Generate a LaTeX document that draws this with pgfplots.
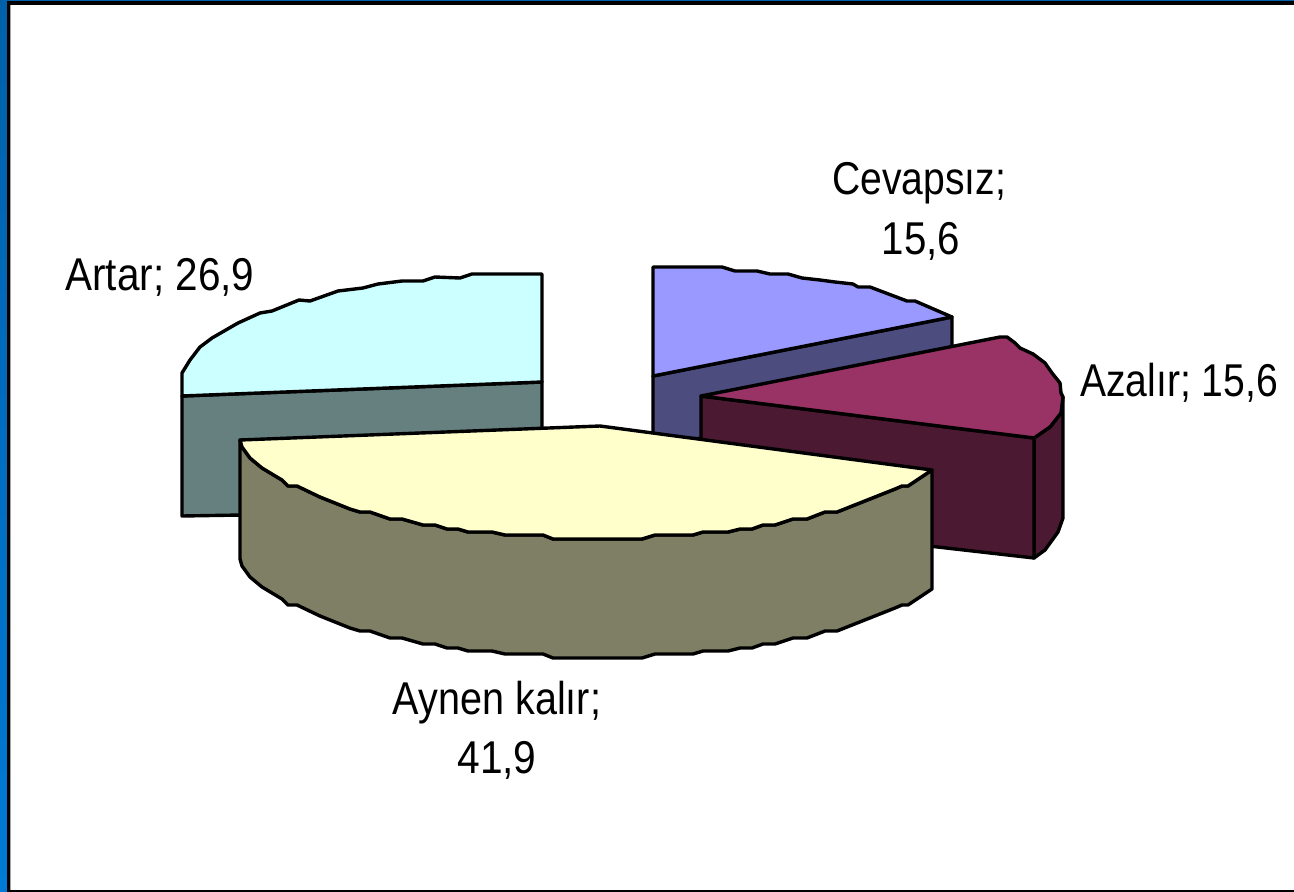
\documentclass[border=0pt]{standalone}
\usepackage{fontspec}
\setmainfont{Liberation Sans}
\usepackage{pgfplots}
\pgfplotsset{compat=1.18}
\definecolor{cA}{RGB}{204,255,255}
\definecolor{cAd}{RGB}{102,127,127}
\definecolor{cC}{RGB}{153,153,255}
\definecolor{cCd}{RGB}{76,76,127}
\definecolor{cZ}{RGB}{153,51,102}
\definecolor{cZd}{RGB}{76,25,51}
\definecolor{cY}{RGB}{255,255,204}
\definecolor{cYd}{RGB}{127,127,102}
\definecolor{bT}{RGB}{0,96,170}
\definecolor{bB}{RGB}{0,122,214}
\newcommand{\lab}[2][0.86]{\fontsize{46}{61}\selectfont\scalebox{#1}[1]{#2}}
\begin{document}
\begin{tikzpicture}
\begin{axis}[
  scale only axis, width=1294pt, height=892pt,
  xmin=0, xmax=1294, ymin=0, ymax=892, y dir=reverse,
  hide axis, clip=true,
  every axis plot/.append style={line width=3.4pt, line join=round, draw=black, mark=none},
]
% frame
\addplot[draw=none, line width=0pt, fill=bT] coordinates {(0,0)(1294,0)(1294,2)(0,2)} -- cycle;
\addplot[draw=none, line width=0pt, top color=bT, bottom color=bB] coordinates {(0,0)(7,0)(7,892)(0,892)} -- cycle;
\addplot[draw=none, line width=0pt, fill=black] coordinates {(7,1)(1294,1)(1294,5)(7,5)} -- cycle;
\addplot[draw=none, line width=0pt, fill=black] coordinates {(7,1)(10,1)(10,892)(7,892)} -- cycle;
\addplot[draw=none, line width=0pt, fill=black] coordinates {(7,890)(1294,890)(1294,892)(7,892)} -- cycle;
\addplot[draw=none, line width=0pt, fill=gray!70] coordinates {(10,5)(11,5)(11,890)(10,890)} -- cycle;
% Cevapsiz side & top
\addplot[fill=cCd] coordinates {(653,376)(952,317)(952,430)(653,440)} -- cycle;
\addplot[fill=cC] coordinates {(653,267)(722,267)(735,271)(757,271)(770,274)(788,274)(802,278)(820,280)(835,282)(853,284)(858,287)(870,287)(907,301)(915,301)(952,317)(653,376)} -- cycle;
% Artar
\addplot[fill=cAd] coordinates {(182,396)(542,382)(542,510)(182,516)} -- cycle;
\addplot[fill=cA] coordinates {(542,274)(472,274)(460,278)(435,277)(423,281)(402,281)(378,284)(363,288)(338,291)(310,301)(299,300)(272,311)(260,313)(238,323)(212,338)(200,347)(190,360)(182,373)(182,396)(542,382)} -- cycle;
% Azalir
\addplot[fill=cZd] coordinates {(1034,438)(1050,427)(1061,413)(1063,397)(1063,518)(1058,532)(1045,550)(1034,558)} -- cycle;
\addplot[fill=cZd] coordinates {(701,396)(1034,438)(1034,558)(701,520)} -- cycle;
\addplot[fill=cZ] coordinates {(701,396)(1000,337)(1007,337)(1015,343)(1020,348)(1033,354)(1045,363)(1052,373)(1060,383)(1061,393)(1063,397)(1061,413)(1050,427)(1034,438)} -- cycle;
% Aynen kalir
\addplot[fill=cYd] coordinates {(240,440)(242,447)(250,458)(262,468)(282,480)(288,486)(297,486)(320,497)(350,509)(360,512)(370,512)(390,519)(402,519)(423,525)(435,525)(447,529)(458,529)(468,532)(492,532)(505,535)(543,535)(553,539)(642,539)(655,535)(693,535)(703,532)(728,532)(740,529)(752,529)(763,525)(775,525)(793,519)(807,519)(825,512)(837,512)(895,489)(902,486)(908,486)(932,470)
(932,589)(908,605)(902,605)(895,608)(837,631)(825,631)(807,638)(793,638)(775,644)(763,644)(752,648)(740,648)(728,651)(703,651)(693,654)(655,654)(642,658)(553,658)(543,654)(505,654)(492,651)(468,651)(458,648)(447,648)(435,644)(423,644)(402,638)(390,638)(370,631)(360,631)(350,628)(320,616)(297,605)(288,605)(282,599)(262,587)(250,577)(242,566)(240,559)} -- cycle;
\addplot[fill=cY] coordinates {(600,426)(932,470)(908,486)(902,486)(895,489)(837,512)(825,512)(807,519)(793,519)(775,525)(763,525)(752,529)(740,529)(728,532)(703,532)(693,535)(655,535)(642,539)(553,539)(543,535)(505,535)(492,532)(468,532)(458,529)(447,529)(435,525)(423,525)(402,519)(390,519)(370,512)(360,512)(350,509)(320,497)(297,486)(288,486)(282,480)(262,468)(250,458)(242,447)(240,440)} -- cycle;
% labels
\node[anchor=base, inner sep=0pt] at (axis cs:919,194) {\lab[0.85]{Cevapsız;}};
\node[anchor=base, inner sep=0pt] at (axis cs:921,254) {\lab[0.875]{15,6}};
\node[anchor=base, inner sep=0pt] at (axis cs:160,290) {\lab[0.88]{Artar; 26,9}};
\node[anchor=base, inner sep=0pt] at (axis cs:1179,396) {\lab[0.85]{Azalır; 15,6}};
\node[anchor=base, inner sep=0pt] at (axis cs:497,714) {\lab{Aynen kalır;}};
\node[anchor=base, inner sep=0pt] at (axis cs:497,773) {\lab[0.885]{41,9}};
\end{axis}
\end{tikzpicture}
\end{document}
